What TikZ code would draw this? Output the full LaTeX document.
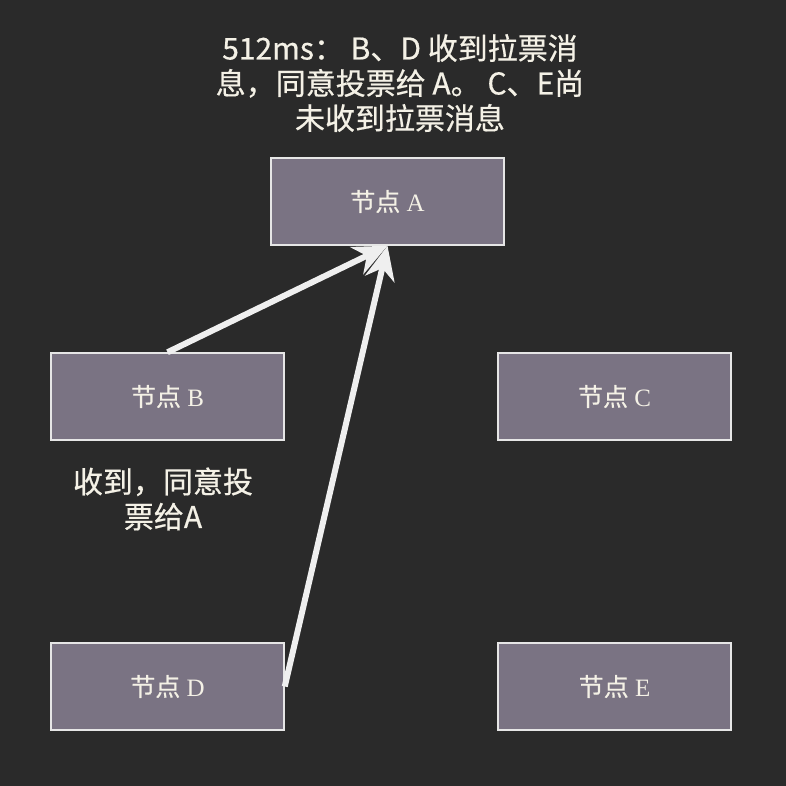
\documentclass[tikz,border=0pt]{standalone}
\usepackage{fontspec}
\setmainfont{Liberation Serif}
\newfontfamily\cjk[FakeBold=0.6]{Noto Sans CJK SC}
\usetikzlibrary{arrows.meta}
\definecolor{bg}{HTML}{2A2A2A}
\definecolor{boxfill}{HTML}{7A7383}
\definecolor{boxline}{HTML}{E6E6E6}
\definecolor{txt}{HTML}{F4F1E6}
\definecolor{arrowline}{HTML}{EFEFEF}
\begin{document}
\begin{tikzpicture}[x=1pt,y=-1pt,
    box/.style={draw=boxline, line width=1.5pt, fill=boxfill, minimum width=233pt, minimum height=87pt, inner sep=0pt, text=txt, font=\fontsize{25}{28}\selectfont},
    vote/.style={draw=arrowline, line width=6pt, -{Stealth[length=34pt,width=30pt,inset=11pt]}},
    note/.style={text=txt, align=center, font=\cjk\fontsize{30}{35}\selectfont}]
    \fill[bg] (0,0) rectangle (786,786);

    \node (title) at (400,83) [note] {512ms：\ B、D 收到拉票消\\息，同意投票给 A。 C、E尚\\未收到拉票消息};

    \node (A) at (387.5,201.5) [box] {{\cjk 节点} A};
    \node (B) at (167.5,396.5) [box] {{\cjk 节点} B};
    \node (C) at (614.5,396.5) [box] {{\cjk 节点} C};
    \node (D) at (167.5,686.5) [box] {{\cjk 节点} D};
    \node (E) at (614.5,686.5) [box] {{\cjk 节点} E};

    \node (agree) at (163,499) [note] {收到，同意投\\票给A};

    \draw[vote] (B.north) -- (A.south);
    \draw[vote] (D.east) -- (A.south);
\end{tikzpicture}
\end{document}
